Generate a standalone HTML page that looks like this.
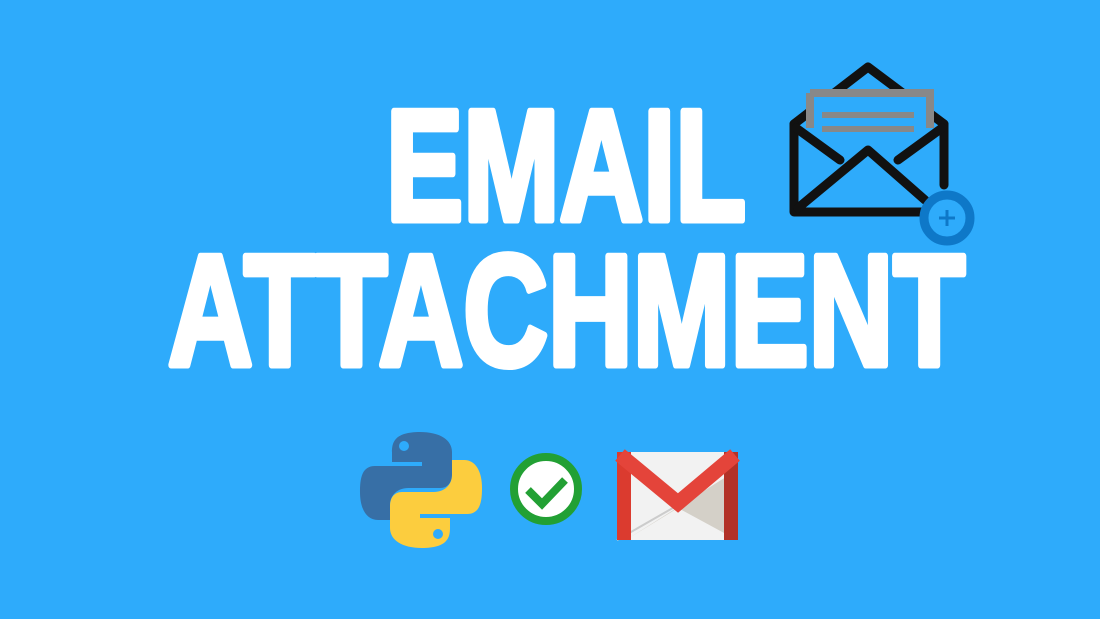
<!DOCTYPE html>
<html><head><meta charset="utf-8"><style>
html,body{margin:0;padding:0;background:#2eabfb;}
svg{display:block}
</style></head><body>
<svg width="1100" height="619" viewBox="0 0 1100 619" xmlns="http://www.w3.org/2000/svg">
<rect width="1100" height="619" fill="#2eabfb"/>
<g font-family="Liberation Sans, sans-serif" font-weight="bold" fill="#fff" stroke="#fff" stroke-width="7" stroke-linejoin="round">
<text x="386" y="220" font-size="158" textLength="360" lengthAdjust="spacingAndGlyphs">EMAIL</text>
<text x="168" y="365" font-size="158" textLength="797" lengthAdjust="spacingAndGlyphs">ATTACHMENT</text>
</g>
<!-- envelope -->
<g fill="none" stroke="#111" stroke-width="9" stroke-linejoin="round" stroke-linecap="round">
<path d="M794 124 L868 67 L944 124"/>
<path d="M794 124 L794 212 L925 212"/>
<path d="M944 124 L944 185"/>
<path d="M796 128 L840 160"/>
<path d="M942 128 L898 160"/>
<path d="M798 208 L868 150 L925 200"/>
</g>
<rect x="808" y="93" width="122" height="34" fill="#2eabfb"/>
<path d="M810 93 H930 V128 M810 93 V128" fill="none" stroke="#888" stroke-width="8"/>
<rect x="822" y="112" width="92" height="6" fill="#888"/>
<rect x="822" y="126" width="92" height="6" fill="#888"/>
<circle cx="947" cy="218" r="23" fill="#2eabfb" stroke="#0e78c8" stroke-width="9"/>
<path d="M947 210 V226 M939 218 H955" stroke="#0e78c8" stroke-width="3"/>
<!-- python -->
<path d="M420 432 C395 432 392 442 392 452 V462 H422 V466 H375 C362 466 360 478 360 492 C360 508 366 520 378 520 H390 V505 C390 495 398 488 408 488 H440 C448 488 452 482 452 474 V452 C452 440 440 432 420 432Z" fill="#376fa6"/>
<circle cx="404" cy="446" r="5" fill="#2eabfb"/>
<path d="M422 548 C447 548 450 538 450 528 V518 H420 V514 H467 C480 514 482 502 482 488 C482 472 476 460 464 460 H452 V475 C452 485 444 492 434 492 H402 C394 492 390 498 390 506 V528 C390 540 402 548 422 548Z" fill="#fccd3e"/>
<circle cx="438" cy="534" r="5" fill="#2eabfb"/>
<!-- check -->
<circle cx="546" cy="489" r="32" fill="#fff" stroke="#22a034" stroke-width="8"/>
<path d="M528 490 L542 504 L565 480" fill="none" stroke="#22a034" stroke-width="8"/>
<!-- gmail -->
<rect x="617" y="452" width="121" height="88" rx="3" fill="#f2f2f2"/>
<path d="M629 538 L678 508 L737 540 L737 470Z" fill="#d4d0c8"/>
<path d="M617 540 L678 505" stroke="#ccc" stroke-width="2"/>
<rect x="617" y="452" width="14" height="88" fill="#db3b2f"/>
<rect x="724" y="452" width="14" height="88" fill="#b23127"/>
<path d="M620 455 L678 503 L735 455" fill="none" stroke="#e4443a" stroke-width="15"/>
</svg>
</body></html>
